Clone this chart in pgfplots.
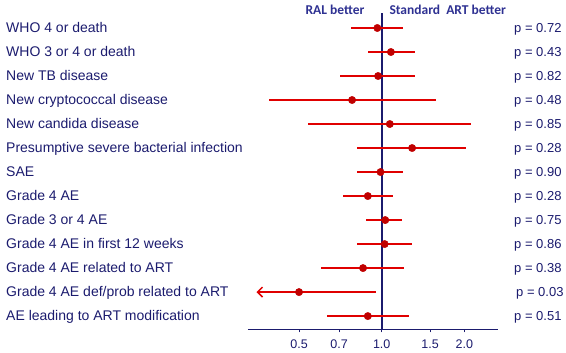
\documentclass[border=0pt]{standalone}
\usepackage{pgfplots}
\pgfplotsset{compat=1.18}
\usepackage{pgfplotstable}
\usepackage{fontspec}
\setmainfont{Liberation Sans}
\newfontfamily\hdrfont{Carlito}
\usetikzlibrary{arrows.meta}
\definecolor{navy}{HTML}{1B1B6E}
\definecolor{hdrblue}{HTML}{2E3192}
\definecolor{cired}{HTML}{E00000}
\definecolor{dotred}{HTML}{C00000}

% y = 14 - row (row 1 at top)
\pgfplotstableread{
y est lo hi
13 0.964 0.775 1.20
12 1.08 0.89 1.32
11 0.97 0.707 1.32
10 0.78 0.39 1.57
9 1.07 0.54 2.11
8 1.29 0.81 2.03
7 0.99 0.81 1.20
6 0.89 0.72 1.10
5 1.03 0.88 1.19
4 1.025 0.81 1.29
3 0.855 0.60 1.21
1 0.89 0.63 1.26
}\ci

\begin{document}
\begin{tikzpicture}[x=1pt,y=1pt]
\useasboundingbox (0,0) rectangle (566,353);
\begin{axis}[
  at={(248pt,23.7pt)}, anchor=south west,
  scale only axis, width=250pt, height=316.3pt,
  xmode=log, xmin=0.326, xmax=2.65,
  ymin=0.45, ymax=13.625,
  axis x line*=bottom, axis y line*=left,
  y axis line style={draw=none},
  x axis line style={navy, line width=0.8pt, -},
  ytick={1,...,13},
  yticklabels={AE leading to ART modification,
    Grade 4 AE def/prob related to ART,
    Grade 4 AE related to ART,
    Grade 4 AE in first 12 weeks,
    Grade 3 or 4 AE,
    Grade 4 AE,
    SAE,
    Presumptive severe bacterial infection,
    New candida disease,
    New cryptococcal disease,
    New TB disease,
    WHO 3 or 4 or death,
    WHO 4 or death},
  ytick style={draw=none},
  yticklabel style={anchor=base west, xshift=-239pt, yshift=-4.8pt, inner xsep=0pt,
    font=\fontsize{14}{16}\selectfont, text=navy},
  xtick={0.5,0.7,1,1.5,2},
  xticklabels={0.5,0.7,1.0,1.5,2.0},
  minor xtick={},
  tick align=outside, major tick length=3pt,
  xtick style={draw=navy, line width=0.6pt},
  xticklabel style={anchor=base, yshift=-16pt, font=\fontsize{12.5}{14}\selectfont, text=navy},
  clip=false,
]
\addplot[navy, line width=1.8pt] coordinates {(1,0.45) (1,13.625)};
\addplot[only marks, mark=*, mark size=3.7pt, color=dotred,
  error bars/.cd, x dir=both, x explicit,
  error bar style={cired, line width=1.5pt}, error mark=none]
  table[x=est, y=y, x error plus expr=\thisrow{hi}-\thisrow{est},
        x error minus expr=\thisrow{est}-\thisrow{lo}] {\ci};
\addplot[cired, line width=1.5pt, -{Straight Barb[length=5pt,width=10pt]}]
  coordinates {(0.95,2) (0.35,2)};
\addplot[only marks, mark=*, mark size=3.7pt, color=dotred] coordinates {(0.50,2)};
\end{axis}
\node[font=\hdrfont\bfseries\fontsize{13.5}{15}\selectfont, text=hdrblue] at (335,343) {RAL better};
\node[font=\hdrfont\bfseries\fontsize{13.5}{15}\selectfont, text=hdrblue] at (447.7,343) {Standard\ \ ART better};
\foreach \p [count=\i] in {0.72,0.43,0.82,0.48,0.85,0.28,0.90,0.28,0.75,0.86,0.38,0.03,0.51} {
  \node[anchor=base west, inner xsep=0pt, font=\fontsize{13}{15}\selectfont, text=navy]
    at ({\i==12 ? 516 : 514}, {349-24*\i-4.5}) {p = \p};
}
\end{tikzpicture}
\end{document}
